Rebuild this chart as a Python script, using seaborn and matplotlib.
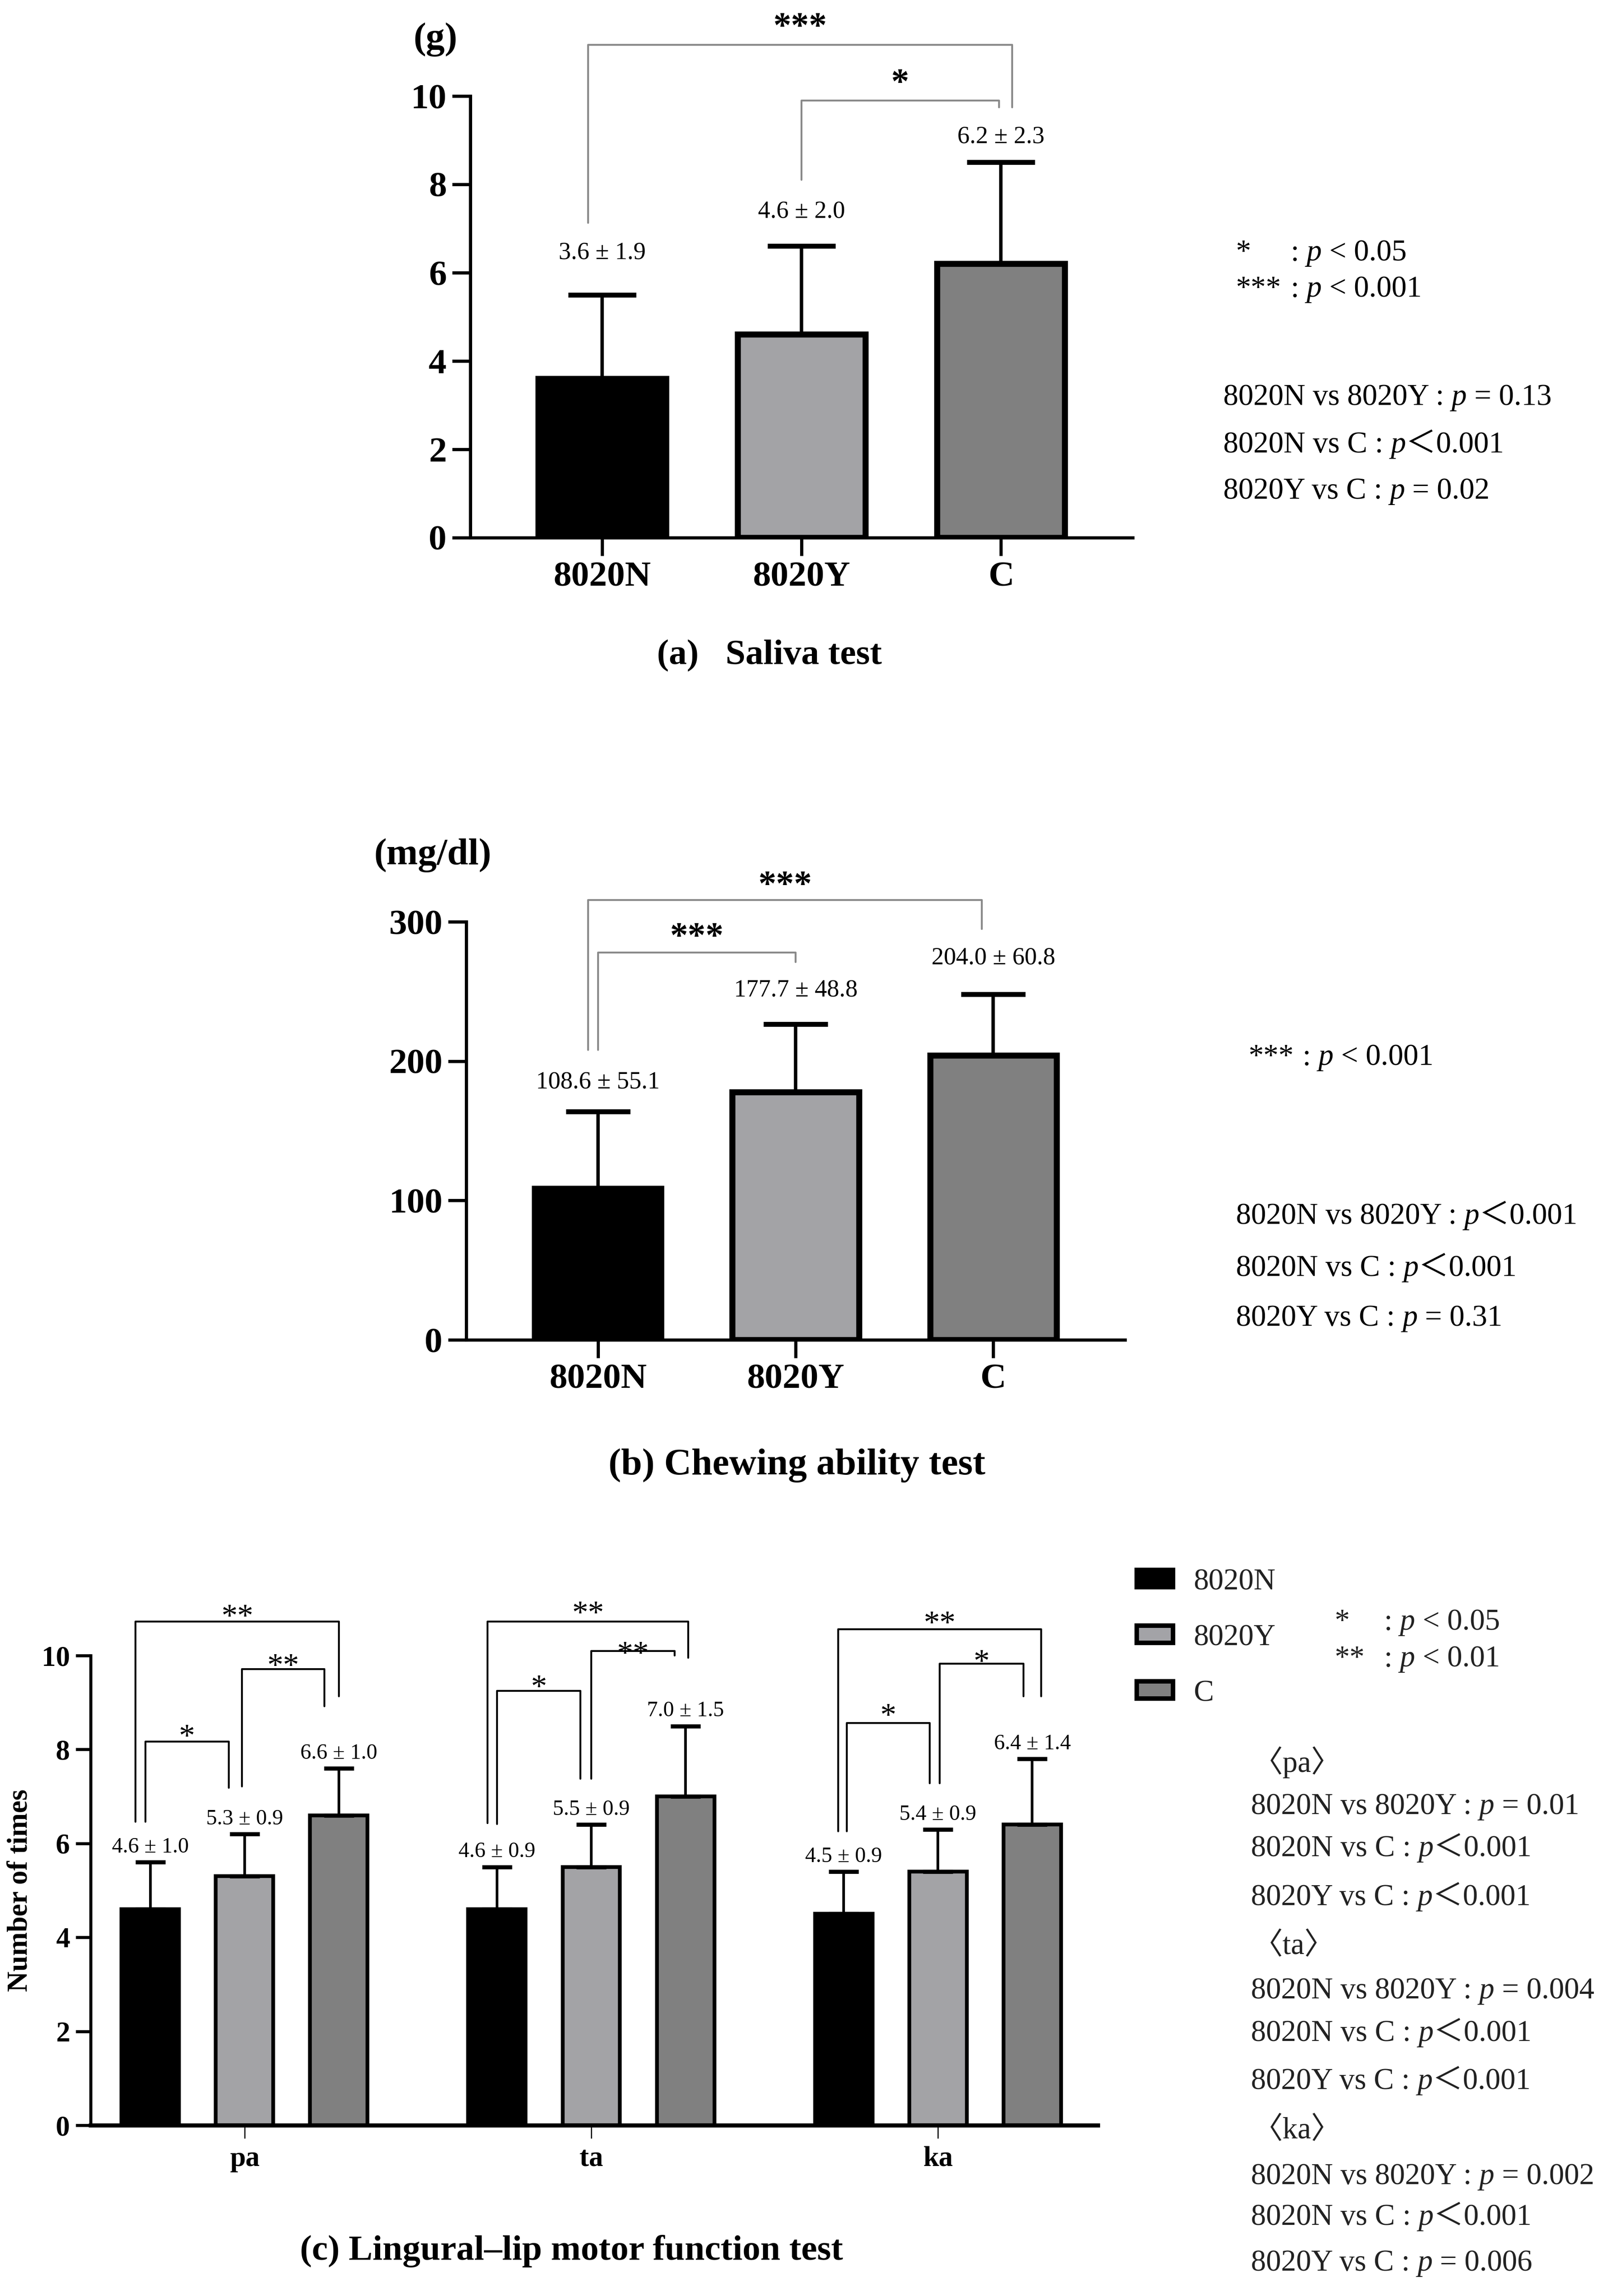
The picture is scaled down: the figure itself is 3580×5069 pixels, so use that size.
import numpy as np
import pandas as pd
import matplotlib
matplotlib.use("Agg")
import matplotlib.pyplot as plt
from matplotlib.patches import Patch
from matplotlib.transforms import IdentityTransform
import seaborn as sns

# ---- data -------------------------------------------------------------
GROUPS = ["8020N", "8020Y", "C"]
COLORS = ["#000000", "#a3a3a7", "#808080"]

SALIVA_MEAN = [3.6, 4.6, 6.2]
SALIVA_SD = [1.9, 2.0, 2.3]
SALIVA_LABELS = ["3.6 ± 1.9", "4.6 ± 2.0", "6.2 ± 2.3"]

CHEW_MEAN = [108.6, 177.7, 204.0]
CHEW_ERR = [55.1, 48.8, 44.0]  # whisker drawn for C is shorter than its label says
CHEW_LABELS = ["108.6 ± 55.1", "177.7 ± 48.8", "204.0 ± 60.8"]

SYLLABLES = ["pa", "ta", "ka"]
ODK_8020N = [4.6, 4.6, 4.5]
ODK_8020Y = [5.3, 5.5, 5.4]
ODK_C = [6.6, 7.0, 6.4]
ODK_SD_8020N = [1.0, 0.9, 0.9]
ODK_SD_8020Y = [0.9, 0.9, 0.9]
ODK_SD_C = [1.0, 1.5, 1.4]

NOTES_A = ["8020N vs 8020Y : _p_ = 0.13", "8020N vs C : _p_＜0.001", "8020Y vs C : _p_ = 0.02"]
NOTES_B = ["8020N vs 8020Y : _p_＜0.001", "8020N vs C : _p_＜0.001", "8020Y vs C : _p_ = 0.31"]
NOTES_C = ["〈pa〉", "8020N vs 8020Y : _p_ = 0.01", "8020N vs C : _p_＜0.001", "8020Y vs C : _p_＜0.001",
           "〈ta〉", "8020N vs 8020Y : _p_ = 0.004", "8020N vs C : _p_＜0.001", "8020Y vs C : _p_＜0.001",
           "〈ka〉", "8020N vs 8020Y : _p_ = 0.002", "8020N vs C : _p_＜0.001", "8020Y vs C : _p_ = 0.006"]

# ---- layout (pixels of the 3580x5069 canvas) ------------------------------
W, H, DPI = 3580, 5069, 300
SERIF = ["Liberation Serif", "Noto Sans CJK JP"]

A_LABEL_Y = [6.45, 7.38, 9.07]
B_LABEL_Y = [185, 251, 274]
# (i, j, dx_i, dx_j, y_left, y_top, y_right, y_star, stars)
BRACKETS_A = [(0, 2, -0.07, 0.055, 7.13, 11.16, 9.74, 11.75, "***"),
              (1, 2, 0.0, -0.01, 8.1, 9.9, 9.74, 10.47, "*")]
BRACKETS_B = [(0, 2, -0.05, -0.057, 208, 315.6, 294.8, 332, "***"),
              (0, 1, 0.0, 0.0, 208, 278, 271, 295, "***")]
# (syllable, i, j, dx_i, dx_j, y_left, y_top, y_right, y_star, stars)
BRACKETS_C = [(0, 0, 1, -0.014, -0.046, 6.46, 8.17, 7.18, 8.41, "*"),
              (0, 1, 2, -0.008, -0.042, 7.21, 9.71, 8.92, 9.92, "**"),
              (0, 0, 2, -0.042, 0.0, 6.46, 10.72, 9.13, 10.97, "**"),
              (1, 0, 1, 0.0, -0.031, 6.41, 9.25, 7.38, 9.46, "*"),
              (1, 1, 2, 0.0, -0.031, 7.38, 10.1, 10.0, 10.18, "**"),
              (1, 0, 2, -0.027, 0.008, 6.43, 10.72, 9.95, 11.03, "**"),
              (2, 0, 1, 0.009, -0.024, 6.26, 8.56, 7.28, 8.85, "*"),
              (2, 1, 2, 0.005, -0.025, 7.28, 9.83, 9.13, 10.0, "*"),
              (2, 0, 2, -0.016, 0.026, 6.26, 10.56, 9.13, 10.82, "**")]

sns.set_style("ticks", {"axes.edgecolor": "black", "xtick.color": "black", "ytick.color": "black",
                        "text.color": "black", "axes.labelcolor": "black"})
plt.rcParams["font.family"] = SERIF


def fx(x):
    return x / W


def fy(y):
    return 1 - y / H


def bar_centers(ax):
    bars = sorted(ax.patches, key=lambda p: p.get_x())
    return [p.get_x() + p.get_width() / 2 for p in bars], [p.get_height() for p in bars]


def style_axes(ax, lw, tick_len, size, pad):
    sns.despine(ax=ax)
    for side in ("left", "bottom"):
        ax.spines[side].set_linewidth(lw)
    ax.tick_params(axis="both", width=lw, length=tick_len, labelsize=size, pad=pad)
    for lab in ax.get_xticklabels() + ax.get_yticklabels():
        lab.set_fontweight("bold")


def bracket(ax, x1, x2, y1, ytop, y2, color, lw):
    ax.plot([x1, x1, x2, x2], [y1, ytop, ytop, y2], color=color, lw=lw, clip_on=False)


def star(ax, x, y, s, size, weight="normal"):
    ax.annotate(s, (x, y), xytext=(0, -0.25 * size), textcoords="offset points",
                ha="center", va="center", fontsize=size, fontweight=weight, annotation_clip=False)


def put_line(fig, x, y, s, size=16, color="black"):
    # '_p_' marks the italic p; x, y are pixels from the top left, y is the cap centre
    r = fig.canvas.get_renderer()
    em = size * DPI / 72
    base = H - (y + 0.33 * em)
    for k, part in enumerate(s.split("_")):
        core = part.strip(" ")
        x += (len(part) - len(part.lstrip(" "))) * 0.25 * em
        if core:
            t = fig.text(x, base, core, transform=IdentityTransform(), fontsize=size, color=color,
                         fontstyle="italic" if k % 2 else "normal", ha="left", va="baseline")
            x = t.get_window_extent(r).x1
        x += (len(part) - len(part.rstrip(" "))) * 0.25 * em


fig = plt.figure(figsize=(W / DPI, H / DPI), dpi=DPI)

# ---- (a) saliva test ----------------------------------------------------
ax_a = fig.add_axes([fx(1038), fy(1187), (2500 - 1038) / W, (1187 - 212) / H])
sns.barplot(x=GROUPS, y=SALIVA_MEAN, hue=GROUPS, palette=COLORS, width=0.64, errorbar=None,
            edgecolor="black", linewidth=3.2, legend=False, ax=ax_a)
xs, tops = bar_centers(ax_a)
ax_a.errorbar(xs, tops, yerr=[np.zeros(3), SALIVA_SD], fmt="none", ecolor="black",
              elinewidth=1.8, capsize=18, capthick=2.6, zorder=3)
ax_a.set_xlim(-0.66, 2.66)
ax_a.set_ylim(0, 10)
ax_a.set_yticks(range(0, 11, 2))
style_axes(ax_a, 1.7, 9.5, 19, 3)
for x, yl, s in zip(xs, A_LABEL_Y, SALIVA_LABELS):
    ax_a.text(x, yl, s, ha="center", va="center", fontsize=13, clip_on=False)
for i, j, di, dj, yl, yt, yr, ys, s in BRACKETS_A:
    x1, x2 = xs[i] + di, xs[j] + dj
    bracket(ax_a, x1, x2, yl, yt, yr, "#8a8a8a", 1.0)
    star(ax_a, (x1 + x2) / 2, ys, s, 19, "bold")
fig.text(fx(961), fy(87), "(g)", ha="center", va="center", fontsize=20, fontweight="bold")
fig.text(fx(1698), fy(1448), "(a)   Saliva test", ha="center", va="center", fontsize=19, fontweight="bold")

fig.text(fx(2728), fy(553 + 22), "*", ha="left", va="baseline", fontsize=16)
put_line(fig, 2849, 553, ": _p_ < 0.05")
fig.text(fx(2728), fy(633 + 22), "***", ha="left", va="baseline", fontsize=16)
put_line(fig, 2849, 633, ": _p_ < 0.001")
for yy, s in zip([872, 977, 1079], NOTES_A):
    put_line(fig, 2700, yy, s)

# ---- (b) chewing ability test -------------------------------------------
ax_b = fig.add_axes([fx(1029), fy(2958), (2483 - 1029) / W, (2958 - 2035) / H])
sns.barplot(x=GROUPS, y=CHEW_MEAN, hue=GROUPS, palette=COLORS, width=0.64, errorbar=None,
            edgecolor="black", linewidth=3.2, legend=False, ax=ax_b)
xs, tops = bar_centers(ax_b)
ax_b.errorbar(xs, tops, yerr=[np.zeros(3), CHEW_ERR], fmt="none", ecolor="black",
              elinewidth=1.8, capsize=17, capthick=2.6, zorder=3)
ax_b.set_xlim(-0.667, 2.667)
ax_b.set_ylim(0, 300)
ax_b.set_yticks(range(0, 301, 100))
style_axes(ax_b, 1.7, 9.5, 19, 3)
for x, yl, s in zip(xs, B_LABEL_Y, CHEW_LABELS):
    ax_b.text(x, yl, s, ha="center", va="center", fontsize=13, clip_on=False)
for i, j, di, dj, yl, yt, yr, ys, s in BRACKETS_B:
    x1, x2 = xs[i] + di, xs[j] + dj
    bracket(ax_b, x1, x2, yl, yt, yr, "#8a8a8a", 1.0)
    star(ax_b, (x1 + x2) / 2, ys, s, 19, "bold")
fig.text(fx(955), fy(1888), "(mg/dl)", ha="center", va="center", fontsize=20, fontweight="bold")
fig.text(fx(1759), fy(3235), "(b) Chewing ability test", ha="center", va="center", fontsize=20, fontweight="bold")

fig.text(fx(2756), fy(2329 + 22), "***", ha="left", va="baseline", fontsize=16)
put_line(fig, 2875, 2329, ": _p_ < 0.001")
for yy, s in zip([2680, 2795, 2905], NOTES_B):
    put_line(fig, 2728, yy, s)

# ---- (c) lingual-lip motor function test --------------------------------
df_c = pd.DataFrame({
    "syllable": SYLLABLES * 3,
    "group": np.repeat(GROUPS, 3),
    "mean": ODK_8020N + ODK_8020Y + ODK_C,
})
sd_c = [ODK_SD_8020N, ODK_SD_8020Y, ODK_SD_C]

ax_c = fig.add_axes([fx(200), fy(4692), (2423 - 200) / W, (4692 - 3655) / H])
sns.barplot(data=df_c, x="syllable", y="mean", hue="group", hue_order=GROUPS, palette=COLORS,
            width=0.816, gap=0.39, errorbar=None, edgecolor="black", linewidth=2.0,
            legend=False, ax=ax_c)
xs, tops = bar_centers(ax_c)
sd_sorted = [sd_c[g][s] for s in range(3) for g in range(3)]
ax_c.errorbar(xs, tops, yerr=[np.zeros(9), sd_sorted], fmt="none", ecolor="black",
              elinewidth=1.4, capsize=8, capthick=2.2, zorder=3)
ax_c.set_xlim(-0.444, 2.461)
ax_c.set_ylim(0, 10)
ax_c.set_yticks(range(0, 11, 2))
ax_c.set_xlabel("")
style_axes(ax_c, 1.6, 8, 15, 3)
ax_c.tick_params(axis="x", width=0.6, length=7, pad=4)
ax_c.spines["bottom"].set_linewidth(2.2)
ax_c.set_ylabel("Number of times", fontsize=15, fontweight="bold")
ax_c.yaxis.set_label_coords(-0.057, 0.5)
for x, t, sd in zip(xs, tops, sd_sorted):
    ax_c.text(x, t + sd + 0.32, f"{t:.1f} ± {sd:.1f}", ha="center", va="center", fontsize=11.5, clip_on=False)
for s, i, j, di, dj, yl, yt, yr, ys, lab in BRACKETS_C:
    x1, x2 = xs[3 * s + i] + di, xs[3 * s + j] + dj
    bracket(ax_c, x1, x2, yl, yt, yr, "black", 1.0)
    star(ax_c, (x1 + x2) / 2, ys, lab, 17)

handles = [Patch(facecolor=c, edgecolor="black", linewidth=2.4) for c in COLORS]
ax_c.legend(handles, GROUPS, loc="upper left", bbox_to_anchor=(fx(2509), fy(3462)),
            bbox_transform=fig.transFigure, frameon=False, prop={"family": SERIF, "size": 16},
            handlelength=1.2, handleheight=0.5, labelspacing=0.93, handletextpad=0.68,
            borderpad=0, borderaxespad=0, labelcolor="#222222")
fig.text(fx(1261), fy(4970), "(c) Lingural–lip motor function test", ha="center", va="center",
         fontsize=19, fontweight="bold")

fig.text(fx(2946), fy(3576 + 22), "*", ha="left", va="baseline", fontsize=16, color="#222222")
put_line(fig, 3055, 3576, ": _p_ < 0.05", color="#222222")
fig.text(fx(2946), fy(3657 + 22), "**", ha="left", va="baseline", fontsize=16, color="#222222")
put_line(fig, 3055, 3657, ": _p_ < 0.01", color="#222222")
NOTE_Y_C = [3890, 3983, 4076, 4184, 4292, 4390, 4484, 4590, 4699, 4800, 4890, 4991]
for yy, s in zip(NOTE_Y_C, NOTES_C):
    put_line(fig, 2765 if s.startswith("〈") else 2761, yy, s, color="#222222")

fig.savefig("out.png", dpi=DPI)
